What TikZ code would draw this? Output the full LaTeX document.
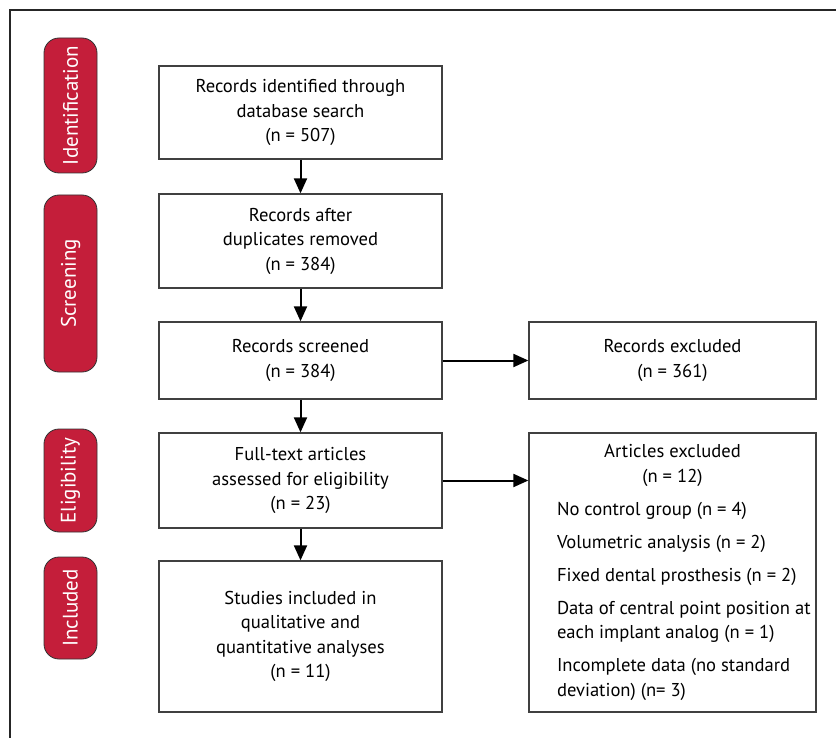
\documentclass[tikz,border=0pt]{standalone}
\usepackage{fontspec}
\setmainfont{PT Sans}
\usetikzlibrary{arrows.meta}
\definecolor{tabred}{RGB}{196,30,58}
\begin{document}
\begin{tikzpicture}[x=1pt, y=-1pt, font=\fontsize{18.6}{24.5}\selectfont]
	\tikzstyle{stage} = [rectangle, rounded corners=15pt, draw=black!80, line width=0.8pt, fill=tabred, text=white, rotate=90, minimum height=53pt, inner sep=0pt, font=\fontsize{21}{24}\selectfont]
	\tikzstyle{box}   = [rectangle, draw=black!75, line width=1.3pt, fill=white, minimum width=283pt, align=center, inner sep=0pt]
	\tikzstyle{link}  = [-{Triangle[length=15pt, width=13pt]}, line width=2pt]

	\useasboundingbox (0,0) rectangle (836,738);
	\draw[line width=1.3pt, black!85] (10,738) -- (10,10) -- (836,10);

	% stages
	\foreach \name/\y/\h in {Identification/105.5/135, Screening/283.5/177, Eligibility/480.5/103, Included/608/102}
		\node[stage, minimum width=\h] (\name) at (70.5, \y) {\name};

	% main column
	\node[box, minimum height=93pt] (ident) at (300.5, 112.5) {Records identified through\\database search\\(n = 507)};
	\node[box, minimum height=94pt] (dupl) at (300.5, 241) {Records after\\duplicates removed\\(n = 384)};
	\node[box, minimum height=77pt] (screen) at (300.5, 360.5) {Records screened\\(n = 384)};
	\node[box, minimum height=95pt] (full) at (300.5, 480.5) {Full-text articles\\assessed for eligibility\\(n = 23)};
	\node[box, minimum height=151pt] (incl) at (300.5, 636.5) {Studies included in\\qualitative and\\quantitative analyses\\(n = 11)};

	% exclusions
	\node[box, minimum width=287pt, minimum height=279pt] (artexcl) at (672.5, 572.5) {\hspace{26pt}\parbox{257pt}{\setlength{\parskip}{8.5pt}\raggedright
		{\centering\hspace*{-26pt}Articles excluded\\\hspace*{-26pt}(n = 12)\par}
		No control group (n = 4)\par
		Volumetric analysis (n = 2)\par
		Fixed dental prosthesis (n = 2)\par
		Data of central point position at\\each implant analog (n = 1)\par
		Incomplete data (no standard\\deviation) (n= 3)}};
	\node[box, minimum width=287pt, minimum height=77pt] (recexcl) at (672.5, 360.5) {Records excluded\\(n = 361)};

	\foreach \from/\to in {ident/dupl, dupl/screen, screen/full, full/incl, screen/recexcl}
		\draw[link] (\from) -- (\to);
	\draw[link] (full.east) -- (full.east -| artexcl.west);

\end{tikzpicture}
\end{document}
